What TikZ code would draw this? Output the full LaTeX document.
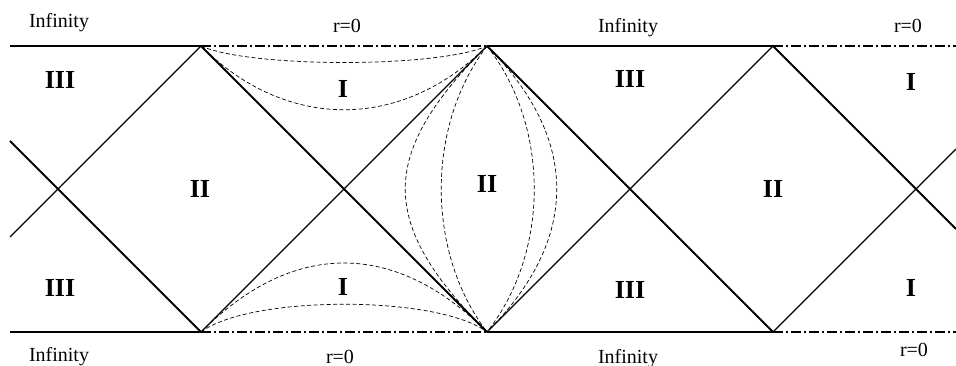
\documentclass[tikz,border=0pt]{standalone}
\usepackage{fontspec}
\setmainfont{Liberation Serif}

\begin{document}
\begin{tikzpicture}[
    x=1pt, y=-1pt,
    bound/.style={line width=2.6pt},
    ray/.style={line width=1.1pt},
    origin/.style={line width=1.3pt, dash pattern=on 10pt off 3pt on 2pt off 3pt},
    orbit/.style={line width=0.7pt, dash pattern=on 4pt off 2.5pt},
    region/.style={font=\fontsize{26}{26}\selectfont\bfseries, inner sep=0pt},
    edge/.style={font=\fontsize{20}{20}\selectfont, inner sep=0pt, anchor=base}
  ]
    \useasboundingbox (0,0) rectangle (956,366);
    \coordinate (tL) at (10,46);
    \coordinate (t0) at (201,46);
    \coordinate (t1) at (487,46);
    \coordinate (t2) at (773,46);
    \coordinate (tR) at (956,46);
    \coordinate (bL) at (10,332);
    \coordinate (b0) at (201,332);
    \coordinate (b1) at (487,332);
    \coordinate (b2) at (773,332);
    \coordinate (bR) at (956,332);
    \coordinate (lA) at (10,141);
    \coordinate (lB) at (10,237);
    \coordinate (rA) at (956,229);
    \coordinate (rB) at (956,149);

    \draw[bound] (tL) -- (t0);
    \draw[origin] (t0) -- (t1);
    \draw[bound] (t1) -- (t2);
    \draw[origin] (t2) -- (tR);
    \draw[bound] (bL) -- (b0);
    \draw[origin] (b0) -- (b1);
    \draw[bound] (b1) -- (b2);
    \draw[origin] (b2) -- (bR);

    \draw[bound, line width=2pt] (lA) -- (b0);
    \draw[bound, line width=2pt] (t0) -- (b1);
    \draw[bound, line width=2pt] (t1) -- (b2);
    \draw[bound, line width=2pt] (t2) -- (rA);
    \draw[ray] (lB) -- (t0);
    \draw[ray] (b0) -- (t1);
    \draw[ray] (b1) -- (t2);
    \draw[ray] (b2) -- (rB);

    \draw[orbit] (t0) .. controls (250,68) and (438,68) .. (t1);
    \draw[orbit] (t0) .. controls (286,131) and (402,131) .. (t1);
    \draw[orbit] (b0) .. controls (293,240) and (395,240) .. (b1);
    \draw[orbit] (b0) .. controls (250,295) and (438,295) .. (b1);
    \draw[orbit] (t1) .. controls (378,155) and (378,223) .. (b1);
    \draw[orbit] (t1) .. controls (426,126) and (426,252) .. (b1);
    \draw[orbit] (t1) .. controls (550,126) and (550,252) .. (b1);
    \draw[orbit] (t1) .. controls (580,139) and (580,239) .. (b1);

    \node[region] (thrTL) at (60,80) {III};
    \node[region] (twoL) at (200,189) {II};
    \node[region] (oneT) at (343,89) {I};
    \node[region] (twoM) at (487,184) {II};
    \node[region] (thrTM) at (630,79) {III};
    \node[region] (twoR) at (773,189) {II};
    \node[region] (oneTR) at (911,82) {I};
    \node[region] (thrBL) at (60,288) {III};
    \node[region] (oneB) at (343,287) {I};
    \node[region] (thrBM) at (630,290) {III};
    \node[region] (oneBR) at (911,288) {I};

    \node[edge] (infTL) at (59,28) {Infinity};
    \node[edge] (rTM) at (347,33) {r=0};
    \node[edge] (infTM) at (628,33) {Infinity};
    \node[edge] (rTR) at (908,33) {r=0};
    \node[edge] (infBL) at (59,361) {Infinity};
    \node[edge] (rBM) at (340,363) {r=0};
    \node[edge] (infBM) at (628,363) {Infinity};
    \node[edge] (rBR) at (914,356) {r=0};
  \end{tikzpicture}
\end{document}
